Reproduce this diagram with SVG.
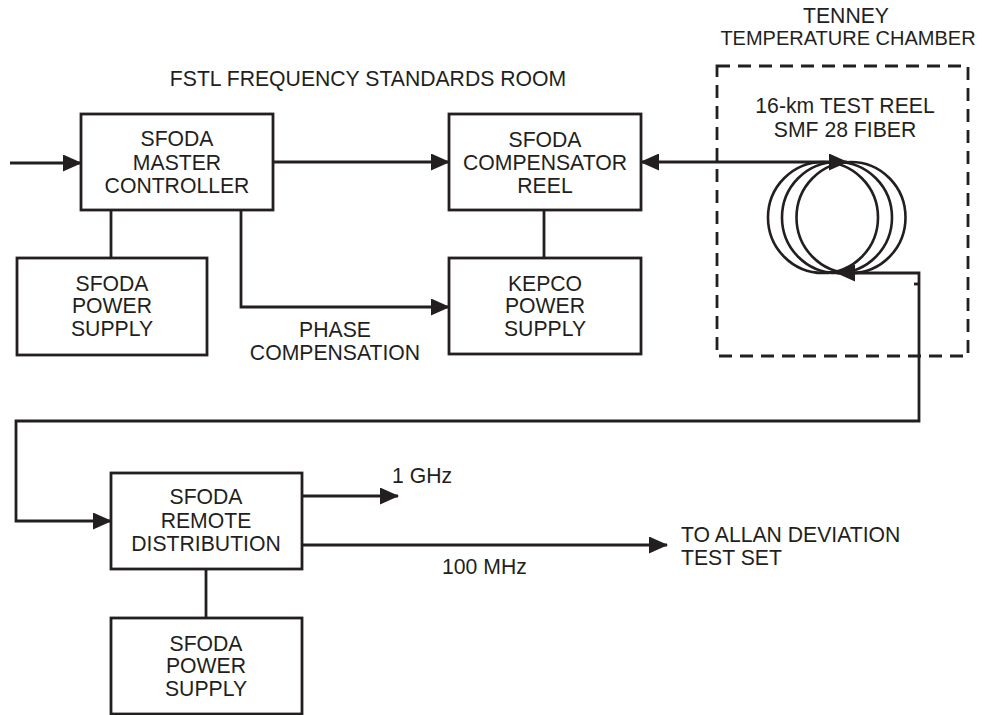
<svg xmlns="http://www.w3.org/2000/svg" width="982" height="715" viewBox="0 0 982 715">
  <style>
    .box { fill: #ffffff; stroke: #231f20; stroke-width: 2.8; }
    .ln { fill: none; stroke: #231f20; stroke-width: 2.8; }
    .dash { fill: none; stroke: #231f20; stroke-width: 2.8; stroke-dasharray: 13 8; }
    .coil { fill: none; stroke: #231f20; stroke-width: 2.6; }
    text { font-family: "Liberation Sans", Arial, sans-serif; font-size: 21.2px; fill: #231f20; }
    .c { text-anchor: middle; }
  </style>
  <defs>
    <marker id="arr" markerUnits="userSpaceOnUse" markerWidth="19" markerHeight="17" viewBox="0 0 19 17" refX="18" refY="8.5" orient="auto-start-reverse">
      <path d="M0,0 L19,8.5 L0,17 z" fill="#231f20"/>
    </marker>
  </defs>

  <g id="labels">
    <text class="c" x="368" y="86">FSTL FREQUENCY STANDARDS ROOM</text>
    <text class="c" x="846" y="23">TENNEY</text>
    <text class="c" x="848" y="45" style="font-size:20px">TEMPERATURE CHAMBER</text>
    <text class="c" x="335" y="337">PHASE</text>
    <text class="c" x="335" y="360">COMPENSATION</text>
    <text x="392" y="483">1 GHz</text>
    <text x="442" y="574">100 MHz</text>
    <text x="681" y="542">TO ALLAN DEVIATION</text>
    <text x="681" y="565">TEST SET</text>
  </g>

  <g id="chamber">
    <rect class="dash" x="717" y="66" width="251" height="290"/>
    <text class="c" x="845" y="113">16-km TEST REEL</text>
    <text class="c" x="845" y="137">SMF 28 FIBER</text>
    <ellipse class="coil" cx="823" cy="217.5" rx="55" ry="55.5"/>
    <ellipse class="coil" cx="837" cy="217.5" rx="55" ry="55.5"/>
    <ellipse class="coil" cx="851" cy="217.5" rx="54.5" ry="55.5"/>
  </g>

  <g id="connectors">
    <path class="ln" d="M10,163 L81,163" marker-end="url(#arr)"/>
    <path class="ln" d="M273,162 L449,162" marker-end="url(#arr)"/>
    <path class="ln" d="M641,162 L847,162" marker-start="url(#arr)" marker-end="url(#arr)"/>
    <path class="ln" d="M111,210 L111,258"/>
    <path class="ln" d="M241,210 L241,307 L449,307" marker-end="url(#arr)"/>
    <path class="ln" d="M544,210 L544,258"/>
    <path class="ln" d="M837,273 L919,273 L919,421 L16,421 L16,521 L111,521" marker-start="url(#arr)" marker-end="url(#arr)"/>
    <path class="ln" d="M914,284 L918,284" stroke-width="2"/>
    <path class="ln" d="M302,496 L398,496" marker-end="url(#arr)"/>
    <path class="ln" d="M302,545 L667,545" marker-end="url(#arr)"/>
    <path class="ln" d="M206,569 L206,618"/>
  </g>

  <g id="master-controller">
    <rect class="box" x="81" y="114" width="192" height="96"/>
    <text class="c" x="177" y="146">SFODA</text>
    <text class="c" x="177" y="170">MASTER</text>
    <text class="c" x="177" y="193">CONTROLLER</text>
  </g>

  <g id="power-supply-top">
    <rect class="box" x="17" y="258" width="190" height="97"/>
    <text class="c" x="112" y="291">SFODA</text>
    <text class="c" x="112" y="313">POWER</text>
    <text class="c" x="112" y="336">SUPPLY</text>
  </g>

  <g id="compensator-reel">
    <rect class="box" x="449" y="114" width="192" height="96"/>
    <text class="c" x="545" y="147">SFODA</text>
    <text class="c" x="545" y="170">COMPENSATOR</text>
    <text class="c" x="545" y="193">REEL</text>
  </g>

  <g id="kepco-power-supply">
    <rect class="box" x="449" y="258" width="192" height="96"/>
    <text class="c" x="545" y="291">KEPCO</text>
    <text class="c" x="545" y="313">POWER</text>
    <text class="c" x="545" y="336">SUPPLY</text>
  </g>

  <g id="remote-distribution">
    <rect class="box" x="111" y="473" width="191" height="96"/>
    <text class="c" x="206" y="504">SFODA</text>
    <text class="c" x="206" y="528">REMOTE</text>
    <text class="c" x="206" y="551">DISTRIBUTION</text>
  </g>

  <g id="power-supply-bottom">
    <rect class="box" x="111" y="618" width="191" height="96"/>
    <text class="c" x="206" y="651">SFODA</text>
    <text class="c" x="206" y="673">POWER</text>
    <text class="c" x="206" y="696">SUPPLY</text>
  </g>
</svg>
